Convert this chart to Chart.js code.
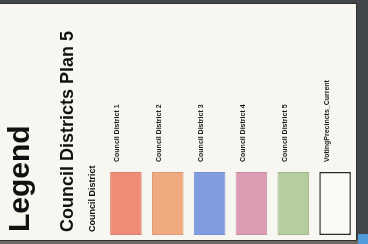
<!DOCTYPE html>
<html lang="en">
<head>
    <meta charset="UTF-8">
    <title>Council Districts Plan 5 - Legend</title>
    <script src="https://cdn.jsdelivr.net/npm/chart.js"></script>
    <style>
        html, body { margin: 0; padding: 0; background: #44474a; }
        #wrap { width: 368px; height: 244px; }
    </style>
</head>
<body>
    <div id="wrap">
        <canvas id="legendChart" width="368" height="244"></canvas>
    </div>

    <script>
        // Legend entries (one swatch per entry)
        const entryLabels = ['Council District 1', 'Council District 2', 'Council District 3',
                             'Council District 4', 'Council District 5', 'VotingPrecincts_Current'];
        const swatchFill = ['#ef8b77', '#f0aa80', '#7f9de0', '#dc9cb3', '#b6cd9d', '#fbfaf6'];
        const swatchEdge = ['#d98270', '#d89a78', '#7790cc', '#c48fa2', '#a3b78d', '#2b2b2b'];
        const swatchSpan = [[0, 1], [0, 1], [0, 1], [0, 1], [0, 1], [0, 1]];

        const titleMain = 'Legend';
        const titleSub = 'Council Districts Plan 5';
        const groupName = 'Council District';

        // paper, frame and the rotated headings
        const paperPlugin = {
            id: 'paper',
            beforeDraw(chart) {
                const c = chart.ctx;
                c.save();
                c.fillStyle = '#44474a';
                c.fillRect(0, 0, 368, 244);
                c.fillStyle = '#6e6a66';
                c.fillRect(0, 240, 358, 4);
                c.fillStyle = '#4f9ad8';
                c.fillRect(358, 234, 10, 10);
                c.fillStyle = '#f8f6f1';
                c.fillRect(0, 4, 356, 236);
                c.strokeStyle = '#2e2e2e';
                c.lineWidth = 1;
                c.beginPath();
                c.moveTo(0, 3.5); c.lineTo(356.5, 3.5); c.lineTo(356.5, 240.5); c.lineTo(0, 240.5);
                c.stroke();
                c.restore();
            },
            afterDraw(chart) {
                const c = chart.ctx;
                c.save();
                c.fillStyle = '#111';
                c.textAlign = 'left';
                c.textBaseline = 'alphabetic';
                const heads = [
                    [titleMain, 'bold 30px "Liberation Sans", Arial', 29],
                    [titleSub, 'bold 18px "Liberation Sans", Arial', 73],
                    [groupName, 'bold 9px "Liberation Sans", Arial', 95]
                ];
                heads.forEach(([txt, font, x]) => {
                    c.save();
                    c.translate(x, 232);
                    c.rotate(-Math.PI / 2);
                    c.font = font;
                    c.fillText(txt, 0, 0);
                    c.restore();
                });
                c.restore();
            }
        };

        const ctx = document.getElementById('legendChart').getContext('2d');
        new Chart(ctx, {
            type: 'bar',
            data: {
                labels: entryLabels,
                datasets: [{
                    data: swatchSpan,
                    backgroundColor: swatchFill,
                    borderColor: swatchEdge,
                    borderWidth: [1, 1, 1, 1, 1, 1.5],
                    borderSkipped: false,
                    barPercentage: 0.755,
                    categoryPercentage: 1
                }]
            },
            options: {
                responsive: false,
                animation: false,
                events: [],
                layout: { padding: { left: 105, right: 12, top: 0, bottom: 9 } },
                plugins: { legend: { display: false }, tooltip: { enabled: false } },
                scales: {
                    x: {
                        position: 'top',
                        grid: { display: false },
                        border: { display: false },
                        afterFit(scale) { scale.height = 172; },
                        ticks: {
                            minRotation: 90,
                            maxRotation: 90,
                            autoSkip: false,
                            padding: 2,
                            color: '#1a1a1a',
                            font: { family: '"Liberation Sans", Arial', size: 7, weight: 'bold' }
                        }
                    },
                    y: { display: false, min: 0, max: 1 }
                }
            },
            plugins: [paperPlugin]
        });
    </script>
</body>
</html>
